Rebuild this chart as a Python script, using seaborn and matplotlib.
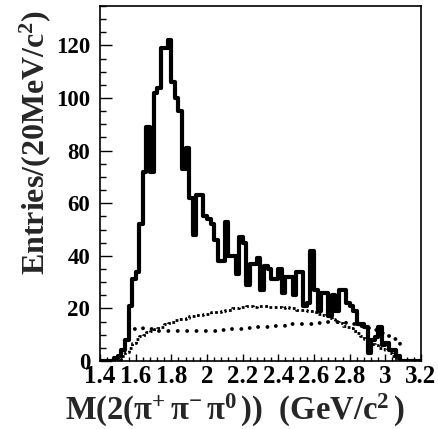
import numpy as np
import pandas as pd
import matplotlib
matplotlib.use("Agg")
import matplotlib.pyplot as plt
import seaborn as sns
from matplotlib.ticker import MultipleLocator

# ---- data (20 MeV bins from 1.40 to 3.20 GeV/c^2) ----
bin_edges = [round(1.40 + 0.02 * i, 2) for i in range(91)]

data_counts = [0, 0, 0, 0, 1,
               2, 4, 8, 21, 31,
               34, 52, 72, 89, 72,
               102, 104, 119, 119, 122,
               106, 100, 95, 73, 81,
               62, 48, 63, 63, 55,
               54, 52, 46, 38, 38,
               53, 40, 40, 33, 47,
               45, 29, 37, 37, 39,
               27, 36, 35, 31, 31,
               35, 26, 32, 32, 25,
               34, 34, 21, 22, 42,
               27, 19, 26, 26, 17,
               25, 19, 27, 27, 22,
               21, 19, 14, 14, 13,
               3, 8, 9, 13, 6,
               7, 4, 4, 2, 0,
               0, 0, 0, 0, 0]

bkg_hist = [0, 0, 0, 0, 0,
            0.5, 2, 3.5, 5, 7,
            8.5, 9.5, 10, 11, 11.5,
            12, 12.5, 13, 14, 14.5,
            15, 15.5, 16, 16, 16.5,
            17, 17, 17.5, 17.5, 18,
            18, 18.5, 18.5, 18.5, 19,
            19.5, 19.5, 20, 20, 20.5,
            20.5, 21, 21, 20.5, 21,
            21, 21, 20.5, 20.5, 20.5,
            20.5, 20, 20.5, 20, 20,
            19.5, 19.5, 19.5, 19, 19,
            18.5, 18, 17.5, 17, 16.5,
            16, 15, 14.5, 13.5, 13,
            12.5, 11.5, 10.5, 9.5, 8.5,
            7.5, 6.5, 6, 5, 4.5,
            4, 3, 2, 0.5, 0,
            0, 0, 0, 0, 0]

bkg_curve = [0, 0, 0, 0, 0,
             0, 3, 8, 12, 12,
             12.5, 12.5, 12, 12, 12,
             11.5, 11.5, 11.5, 11.5, 11.5,
             11.5, 11.5, 11.5, 11.5, 11.5,
             11.5, 11.5, 11.5, 11.5, 11.5,
             11.5, 11.5, 11.5, 11.5, 11.8,
             11.8, 11.8, 12, 12, 12,
             12.2, 12.5, 12.5, 12.8, 12.8,
             13, 13, 13, 13, 13.2,
             13.5, 13.5, 13.8, 14, 14,
             14, 14, 14, 14, 14.2,
             14.5, 14.5, 14.8, 15, 15,
             15, 15, 15, 14.8, 14.5,
             14.2, 14, 13.7, 13.4, 13,
             12.7, 12.3, 11.8, 11.3, 10.8,
             10.2, 9.5, 8.5, 7, 5,
             0, 0, 0, 0, 0]

xtick_values = [1.4, 1.6, 1.8, 2.0, 2.2, 2.4, 2.6, 2.8, 3.0, 3.2]
xtick_labels = ["1.4", "1.6", "1.8", "2", "2.2", "2.4", "2.6", "2.8", "3", "3.2"]
ytick_values = [0, 20, 40, 60, 80, 100, 120]

# ---- style ----
sns.set_style("ticks")
plt.rcParams["font.family"] = ["Liberation Serif", "DejaVu Serif"]
plt.rcParams["font.weight"] = "bold"
plt.rcParams["mathtext.fontset"] = "custom"
plt.rcParams["mathtext.rm"] = "Liberation Serif:bold"
plt.rcParams["mathtext.it"] = "Liberation Serif:italic:bold"
plt.rcParams["mathtext.bf"] = "Liberation Serif:bold"

W, H = 439, 429
fig = plt.figure(figsize=(W / 100, H / 100), dpi=100)
ax = fig.add_axes([100 / W, 68 / H, 321 / W, 355 / H])

centers = [(bin_edges[i] + bin_edges[i + 1]) / 2 for i in range(len(bin_edges) - 1)]
df = pd.DataFrame({"mass": centers, "data": data_counts,
                   "bkg": bkg_hist, "curve": bkg_curve})

# dashed (square-dot) histogram
sns.histplot(data=df, x="mass", weights="bkg", bins=bin_edges, element="step",
             fill=False, color="black", linewidth=2.0,
             linestyle=(0, (1, 0.9)), ax=ax)
# round-dotted curve
curve_df = df[(df["mass"] > 1.5) & (df["mass"] < 3.1)]
sns.lineplot(data=curve_df, x="mass", y="curve", color="black", linewidth=2.8,
             linestyle=(0, (0.01, 2.4)), dash_capstyle="round",
             drawstyle="steps-mid", ax=ax)
# data histogram
sns.histplot(data=df, x="mass", weights="data", bins=bin_edges, element="step",
             fill=False, color="black", linewidth=3.0, ax=ax)

ax.set_xlim(1.4, 3.2)
ax.set_ylim(0, 135)
ax.set_xticks(xtick_values, xtick_labels)
ax.set_yticks(ytick_values, [str(v) for v in ytick_values])
ax.xaxis.set_minor_locator(MultipleLocator(0.04))
ax.yaxis.set_minor_locator(MultipleLocator(5))

ax.tick_params(axis="both", which="both", direction="in", top=False, right=False,
               width=1.0, colors="black")
ax.tick_params(axis="y", which="major", length=8.4, pad=7, labelsize=16.5)
ax.tick_params(axis="y", which="minor", length=4.3)
ax.tick_params(axis="x", which="major", length=5, pad=3, labelsize=18)
ax.tick_params(axis="x", which="minor", length=2.6)
for lab in ax.get_xticklabels() + ax.get_yticklabels():
    lab.set_fontweight("bold")

for s in ax.spines.values():
    s.set_linewidth(1.2)
    s.set_color("black")
    s.set_visible(True)

ax.set_xlabel(r"M(2(π$^{+}\,$π$^{-}\,$π$^{0}\,$))  (GeV/c$^{2}\,$)", fontsize=23.5,
              fontweight="bold", va="center")
ax.xaxis.set_label_coords(0.42, -0.138)
ax.set_ylabel(r"Entries/(20MeV/c$^{2}$)", fontsize=23, fontweight="bold",
              va="center")
ax.yaxis.set_label_coords((35 - 100) / 321, (361 - 142) / 355)

fig.savefig("out.png", dpi=100)
